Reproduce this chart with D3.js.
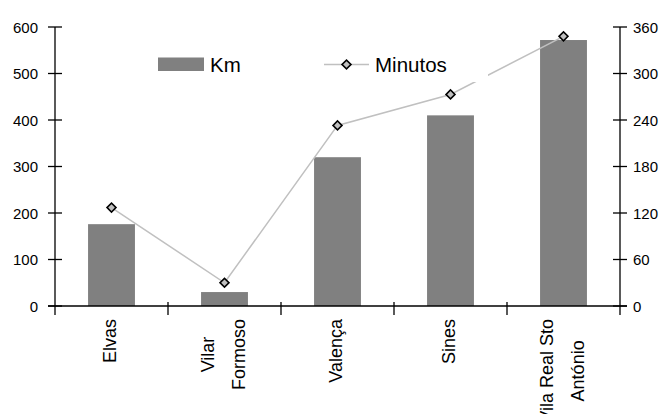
<!DOCTYPE html>
<html>
<head>
<meta charset="utf-8">
<script src="https://cdn.jsdelivr.net/npm/d3@7"></script>
<style>
  html, body { margin: 0; padding: 0; background: #fff; }
  svg { display: block; font-family: Arial, "Liberation Sans", sans-serif; }
</style>
</head>
<body>
<svg id="chart" width="664" height="414"></svg>
<script>
// Destinations (label lines split where the axis wraps them)
const categories = ["Elvas", "Vilar Formoso", "Valença", "Sines", "Vila Real Sto António"];
const categoryLines = [["Elvas"], ["Vilar", "Formoso"], ["Valença"], ["Sines"], ["Vila Real Sto", "António"]];
// Distance in km (left axis) and travel time in minutes (right axis)
const km = [176, 30, 320, 410, 572];
const minutos = [127, 30, 233, 273, 348];
const kmTicks = [0, 100, 200, 300, 400, 500, 600];
const minTicks = [0, 60, 120, 180, 240, 300, 360];

const svg = d3.select("#chart");
const plotLeft = 55, plotRight = 620, plotTop = 27, plotBottom = 306;

const x = d3.scaleBand().domain(categories).range([plotLeft, plotRight]).paddingInner(0).paddingOuter(0);
const yKm = d3.scaleLinear().domain([0, 600]).range([plotBottom, plotTop]);
const yMin = d3.scaleLinear().domain([0, 360]).range([plotBottom, plotTop]);

const barW = x.bandwidth() * 0.415;

// Bars (Km)
svg.append("g").selectAll("rect").data(categories).join("rect")
  .attr("x", d => x(d) + x.bandwidth() / 2 - barW / 2)
  .attr("y", (d, i) => yKm(km[i]))
  .attr("width", barW)
  .attr("height", (d, i) => plotBottom - yKm(km[i]))
  .attr("fill", "#808080");

// Line (Minutos)
const pts = categories.map((c, i) => [x(c) + x.bandwidth() / 2, yMin(minutos[i])]);
svg.append("path")
  .attr("d", d3.line()(pts))
  .attr("fill", "none")
  .attr("stroke", "#c0c0c0")
  .attr("stroke-width", 1.5);

// Legend with white background (covers part of the line)
const lg = svg.append("g");
lg.append("rect").attr("x", 142).attr("y", 44).attr("width", 346).attr("height", 38).attr("fill", "#fff");

function marker(g, cx, cy) {
  g.append("path")
    .attr("d", d3.symbol().type(d3.symbolSquare).size(40)())
    .attr("transform", `translate(${cx},${cy}) rotate(45)`)
    .attr("fill", "#c0c0c0")
    .attr("stroke", "#000")
    .attr("stroke-width", 1.6);
}
const mg = svg.append("g");
pts.forEach(p => marker(mg, p[0], p[1]));

lg.append("rect").attr("x", 158).attr("y", 57.5).attr("width", 46).attr("height", 13.5).attr("fill", "#808080");
lg.append("text").attr("x", 210).attr("y", 71.5).attr("font-size", 20.5).attr("fill", "#000").text("Km");
lg.append("line").attr("x1", 324).attr("x2", 369).attr("y1", 64.5).attr("y2", 64.5)
  .attr("stroke", "#c0c0c0").attr("stroke-width", 1.5);
marker(lg, 346.5, 64.5);
lg.append("text").attr("x", 375).attr("y", 71.5).attr("font-size", 20.5).attr("fill", "#000").text("Minutos");

// Left axis
const axL = svg.append("g").attr("transform", `translate(${plotLeft},0)`);
axL.append("line").attr("y1", plotTop).attr("y2", plotBottom).attr("stroke", "#000").attr("stroke-width", 1.3);
kmTicks.forEach(t => {
  axL.append("line").attr("x1", -7).attr("x2", 7).attr("y1", yKm(t)).attr("y2", yKm(t)).attr("stroke", "#000").attr("stroke-width", 1.3);
  axL.append("text").attr("x", -17).attr("y", yKm(t) + 5.5).attr("text-anchor", "end").attr("font-size", 15).text(t);
});

// Right axis
const axR = svg.append("g").attr("transform", `translate(${plotRight},0)`);
axR.append("line").attr("y1", plotTop).attr("y2", plotBottom).attr("stroke", "#000").attr("stroke-width", 1.3);
minTicks.forEach(t => {
  axR.append("line").attr("x1", -7).attr("x2", 7).attr("y1", yMin(t)).attr("y2", yMin(t)).attr("stroke", "#000").attr("stroke-width", 1.3);
  axR.append("text").attr("x", 13).attr("y", yMin(t) + 5.5).attr("text-anchor", "start").attr("font-size", 15).text(t);
});

// Bottom axis with ticks at category boundaries
const axB = svg.append("g");
axB.append("line").attr("x1", plotLeft - 7).attr("x2", plotRight + 7).attr("y1", plotBottom).attr("y2", plotBottom).attr("stroke", "#000").attr("stroke-width", 1.5);
const labelTop = 319, lineGap = 31;
categories.forEach((c, i) => {
  const bx = x(c) + x.bandwidth();
  if (i < categories.length - 1) {
    axB.append("line").attr("x1", bx).attr("x2", bx).attr("y1", plotBottom - 4).attr("y2", plotBottom + 9).attr("stroke", "#000").attr("stroke-width", 1.3);
  }
  const cx = x(c) + x.bandwidth() / 2;
  const lines = categoryLines[i];
  const texts = lines.map((ln, j) => {
    const off = (j - (lines.length - 1) / 2) * lineGap;
    return axB.append("text")
      .attr("font-size", 18)
      .attr("text-anchor", "middle")
      .attr("data-x", cx + off + 4.5)
      .text(ln);
  });
  // Lines are centred on each other; the block hangs from just below the axis
  const maxLen = d3.max(texts, t => t.node().getComputedTextLength());
  texts.forEach(t => {
    t.attr("transform", `translate(${t.attr("data-x")},${labelTop + maxLen / 2}) rotate(-90)`)
      .attr("data-x", null);
  });
});
axB.append("line").attr("x1", plotLeft).attr("x2", plotLeft).attr("y1", plotBottom).attr("y2", plotBottom + 9).attr("stroke", "#000").attr("stroke-width", 1.3);
axB.append("line").attr("x1", plotRight).attr("x2", plotRight).attr("y1", plotBottom).attr("y2", plotBottom + 9).attr("stroke", "#000").attr("stroke-width", 1.3);
</script>
</body>
</html>
